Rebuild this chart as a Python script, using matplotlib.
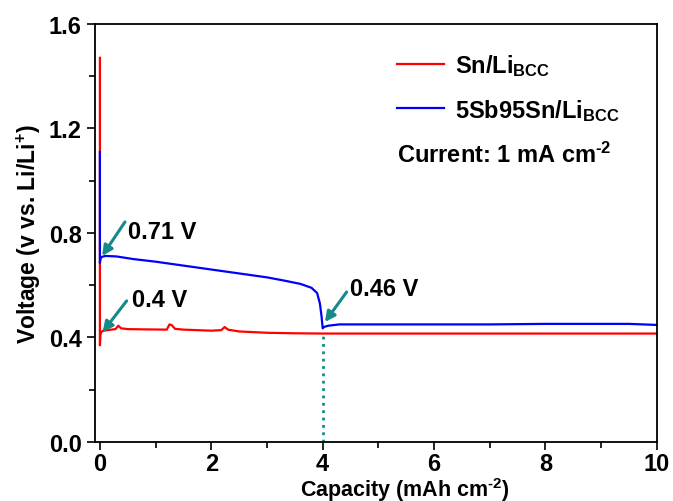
import matplotlib
matplotlib.use('Agg')
import matplotlib.pyplot as plt

plt.rcParams['font.family'] = ['Liberation Sans', 'DejaVu Sans']
plt.rcParams['font.weight'] = 'bold'
plt.rcParams['mathtext.fontset'] = 'custom'
plt.rcParams['mathtext.rm'] = 'Liberation Sans:bold'
plt.rcParams['mathtext.bf'] = 'Liberation Sans:bold'
plt.rcParams['mathtext.it'] = 'Liberation Sans:bold'
plt.rcParams['axes.unicode_minus'] = False

# Sn/Li_BCC
sn_cap = [0, 0, 0.01, 0.02, 0.05, 0.1, 0.2, 0.28, 0.33, 0.38, 0.5, 0.8, 1.2, 1.25,
          1.29, 1.35, 1.5, 2.0, 2.18, 2.24, 2.3, 2.5, 3.0, 3.5, 4, 5, 6, 7, 8, 9, 10]
sn_volt = [1.47, 0.37, 0.41, 0.42, 0.425, 0.427, 0.43, 0.432, 0.445, 0.435, 0.432,
           0.431, 0.43, 0.45, 0.447, 0.433, 0.43, 0.426, 0.428, 0.44, 0.43, 0.423,
           0.418, 0.416, 0.415, 0.415, 0.415, 0.415, 0.415, 0.415, 0.415]

# 5Sb95Sn/Li_BCC
sb_cap = [0, 0, 0.01, 0.03, 0.1, 0.3, 0.6, 1.0, 1.5, 2.0, 2.5, 3.0, 3.3, 3.6, 3.8,
          3.9, 3.95, 3.98, 4.0, 4.02, 4.1, 4.3, 5, 6, 7, 8, 9, 9.5, 10]
sb_volt = [1.11, 0.685, 0.70, 0.708, 0.712, 0.71, 0.70, 0.69, 0.675, 0.66, 0.645,
           0.63, 0.618, 0.605, 0.59, 0.57, 0.53, 0.48, 0.435, 0.44, 0.445, 0.45,
           0.45, 0.45, 0.45, 0.452, 0.452, 0.452, 0.448]

# annotations: text, text position, arrow tail, arrow head
notes = [('0.71 V', (0.50, 0.804), (0.45, 0.842), (0.04, 0.712)),
         ('0.4 V', (0.57, 0.547), (0.48, 0.540), (0.05, 0.421)),
         ('0.46 V', (4.49, 0.586), (4.43, 0.574), (4.04, 0.459))]

teal = '#168a8a'
hyph = '\u2010'

fig = plt.figure(figsize=(6.73, 5.02), dpi=100)
ax = fig.add_axes([0.141, 0.1175, 0.835, 0.833])

ax.plot([4, 4], [0, 0.415], color=teal, ls=':', lw=2)
ax.plot(sn_cap, sn_volt, color='#ff0000', lw=1.6, label=r'Sn/Li$_{\mathregular{BCC}}$')
ax.plot(sb_cap, sb_volt, color='#0000ff', lw=1.6, label=r'5Sb95Sn/Li$_{\mathregular{BCC}}$')

for txt, tpos, tail, head in notes:
    ax.text(tpos[0], tpos[1], txt, fontsize=17, fontweight='bold', va='center', ha='left')
    ax.annotate('', xy=head, xytext=tail,
                arrowprops=dict(arrowstyle='-|>', color=teal, lw=2.2,
                                mutation_scale=15, shrinkA=0, shrinkB=0))

ax.set_xlim(-0.09, 10)
ax.set_ylim(0, 1.6)
ax.set_xticks([0, 2, 4, 6, 8, 10])
ax.set_xticks([1, 3, 5, 7, 9], minor=True)
ax.set_yticks([0.0, 0.4, 0.8, 1.2, 1.6])
ax.set_yticks([0.2, 0.6, 1.0, 1.4], minor=True)
ax.set_yticklabels(['0.0', '0.4', '0.8', '1.2', '1.6'])
ax.tick_params(which='major', direction='out', length=6, width=1.2, labelsize=17)
ax.tick_params(which='minor', direction='out', length=4, width=1.2)
ax.tick_params(axis='x', pad=1)
for s in ax.spines.values():
    s.set_linewidth(1.3)

ax.set_xlabel('Capacity (mAh cm$^{\\mathregular{' + hyph + '2}}$)', fontsize=15.5, fontweight='bold')
ax.xaxis.set_label_coords(0.552, -0.078)
ax.set_ylabel(r'Voltage (v vs. Li/Li$^{\mathregular{+}}$)', fontsize=16.5, fontweight='bold', labelpad=4)

ax.legend(loc='upper left', bbox_to_anchor=(0.537, 0.933), frameon=False,
          handlelength=2.0, handletextpad=0.45, labelspacing=0.8,
          borderpad=0, borderaxespad=0, prop={'weight': 'bold', 'size': 17})
ax.text(0.538, 0.689, 'Current: 1 mA cm$^{\\mathregular{' + hyph + '2}}$', transform=ax.transAxes,
        fontsize=17, fontweight='bold', va='center')

fig.savefig('out.png', dpi=100)
